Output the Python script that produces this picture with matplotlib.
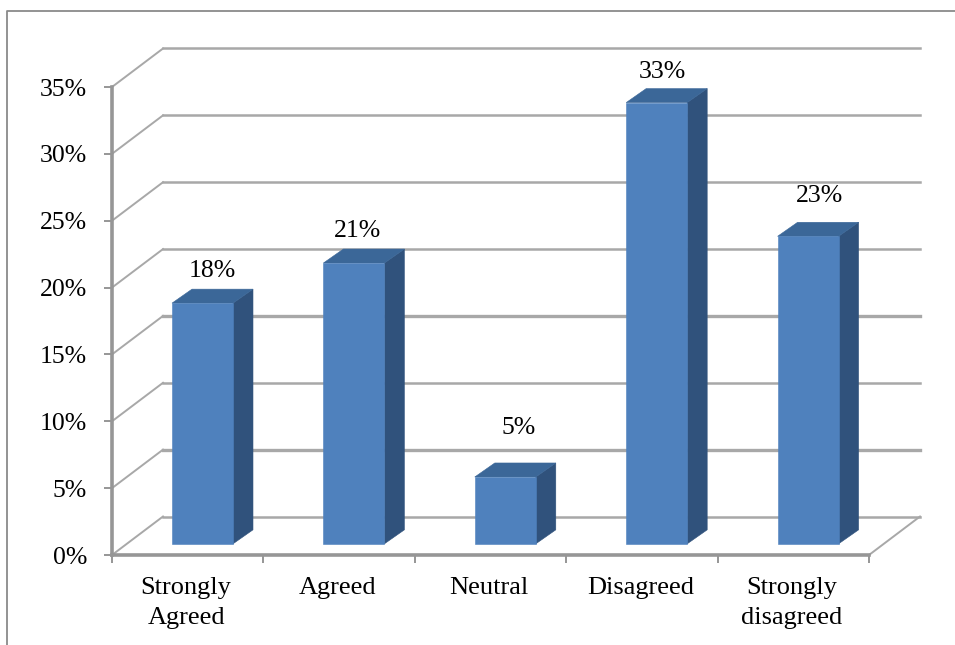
import matplotlib
matplotlib.use("Agg")
import matplotlib.pyplot as plt
from matplotlib.lines import Line2D
from matplotlib.patches import Polygon

CATEGORIES = ["Strongly\nAgreed", "Agreed", "Neutral", "Disagreed", "Strongly\ndisagreed"]
PERCENTAGES = [18, 21, 5, 33, 23]
Y_TICKS = [0, 5, 10, 15, 20, 25, 30, 35]

WIDTH, HEIGHT = 955, 645
LEFT, RIGHT, BOTTOM, TOP = 112, 869, 555, 87

# size of one axis unit in pixels, used to turn pixel depths into data units
PX_X = (RIGHT - LEFT) / len(CATEGORIES)
PX_Y = (BOTTOM - TOP) / Y_TICKS[-1]

# depth of the 3d floor and of the bars
DEPTH_X = 51 / PX_X
DEPTH_Y = 38.5 / PX_Y
BAR_WIDTH = 61 / PX_X
BAR_START = 0.29
BAR_DEPTH_X = 20 / PX_X
BAR_DEPTH_Y = 14 / PX_Y

FRONT = "#4f81bd"
TOPSIDE = "#3b6798"
SIDE = "#30527c"
GRID = "#a8a8a8"
AXIS = "#969696"

# nudges for the value labels, in pixels from the back of the bar top
LABEL_OFFSETS = [(0, 18), (-6, 18), (3, 35), (-4, 17), (1, 26)]

plt.rcParams["font.family"] = ["Liberation Serif", "DejaVu Serif"]
plt.rcParams["font.size"] = 18.5

fig = plt.figure(figsize=(WIDTH / 100, HEIGHT / 100), dpi=100)
ax = fig.add_axes([LEFT / WIDTH, 1 - BOTTOM / HEIGHT, (RIGHT - LEFT) / WIDTH, (BOTTOM - TOP) / HEIGHT])
ax.set_xlim(0, len(CATEGORIES))
ax.set_ylim(0, Y_TICKS[-1])

# left side diagonals stay thin, the back wall lines carry the weight
for y in Y_TICKS:
    lw = 2.4 if y in (5, 15) else 1.8
    ax.plot([0, DEPTH_X], [y, y + DEPTH_Y], color=GRID, lw=1.4, clip_on=False, zorder=1)
    ax.plot([DEPTH_X, len(CATEGORIES) + DEPTH_X], [y + DEPTH_Y, y + DEPTH_Y],
            color=GRID, lw=lw, clip_on=False, zorder=1)
ax.plot([len(CATEGORIES), len(CATEGORIES) + DEPTH_X], [0, DEPTH_Y],
        color=GRID, lw=1.4, clip_on=False, zorder=1)

for i, value in enumerate(PERCENTAGES):
    x0 = i + 0.5 - BAR_WIDTH / 2 + BAR_START * DEPTH_X
    x1 = x0 + BAR_WIDTH
    y0 = BAR_START * DEPTH_Y
    y1 = y0 + value
    ax.add_patch(Polygon([(x1, y0), (x1 + BAR_DEPTH_X, y0 + BAR_DEPTH_Y), (x1 + BAR_DEPTH_X, y1 + BAR_DEPTH_Y), (x1, y1)],
                         closed=True, fc=SIDE, ec=SIDE, lw=0.4, clip_on=False, zorder=3))
    ax.add_patch(Polygon([(x0, y1), (x1, y1), (x1 + BAR_DEPTH_X, y1 + BAR_DEPTH_Y), (x0 + BAR_DEPTH_X, y1 + BAR_DEPTH_Y)],
                         closed=True, fc=TOPSIDE, ec=TOPSIDE, lw=0.4, clip_on=False, zorder=3))
    ax.add_patch(Polygon([(x0, y0), (x1, y0), (x1, y1), (x0, y1)], closed=True,
                         fc=FRONT, ec=FRONT, lw=0.4, clip_on=False, zorder=3))
    dx, dy = LABEL_OFFSETS[i]
    ax.annotate(f"{value}%", xy=(x0 + BAR_WIDTH / 2 + BAR_DEPTH_X / 2, y1 + BAR_DEPTH_Y),
                xytext=(dx * 0.72, dy * 0.72), textcoords="offset points",
                ha="center", va="center", annotation_clip=False, zorder=4)

for side in ("top", "right"):
    ax.spines[side].set_visible(False)
for side in ("left", "bottom"):
    ax.spines[side].set_color(AXIS)
    ax.spines[side].set_linewidth(2.6)
    ax.spines[side].set_zorder(2)

ax.set_yticks(Y_TICKS)
ax.set_yticklabels([f"{y}%" for y in Y_TICKS])
ax.tick_params(axis="y", length=6, width=1.4, color=AXIS, pad=12)
ax.set_xticks(range(len(CATEGORIES) + 1))
ax.set_xticklabels([])
ax.tick_params(axis="x", which="major", length=5.5, width=1.4, color=AXIS)
ax.set_xticks([i + 0.49 for i in range(len(CATEGORIES))], minor=True)
ax.set_xticklabels(CATEGORIES, minor=True, linespacing=1.45, fontsize=19)
ax.tick_params(axis="x", which="minor", length=0, pad=16)

# outer border, only the top and left edges are inside the canvas
fig.add_artist(Line2D([7 / WIDTH, 7 / WIDTH, 1], [0, 1 - 11 / HEIGHT, 1 - 11 / HEIGHT], color="#8a8a8a", lw=1.3))

fig.savefig("out.png", dpi=100)
